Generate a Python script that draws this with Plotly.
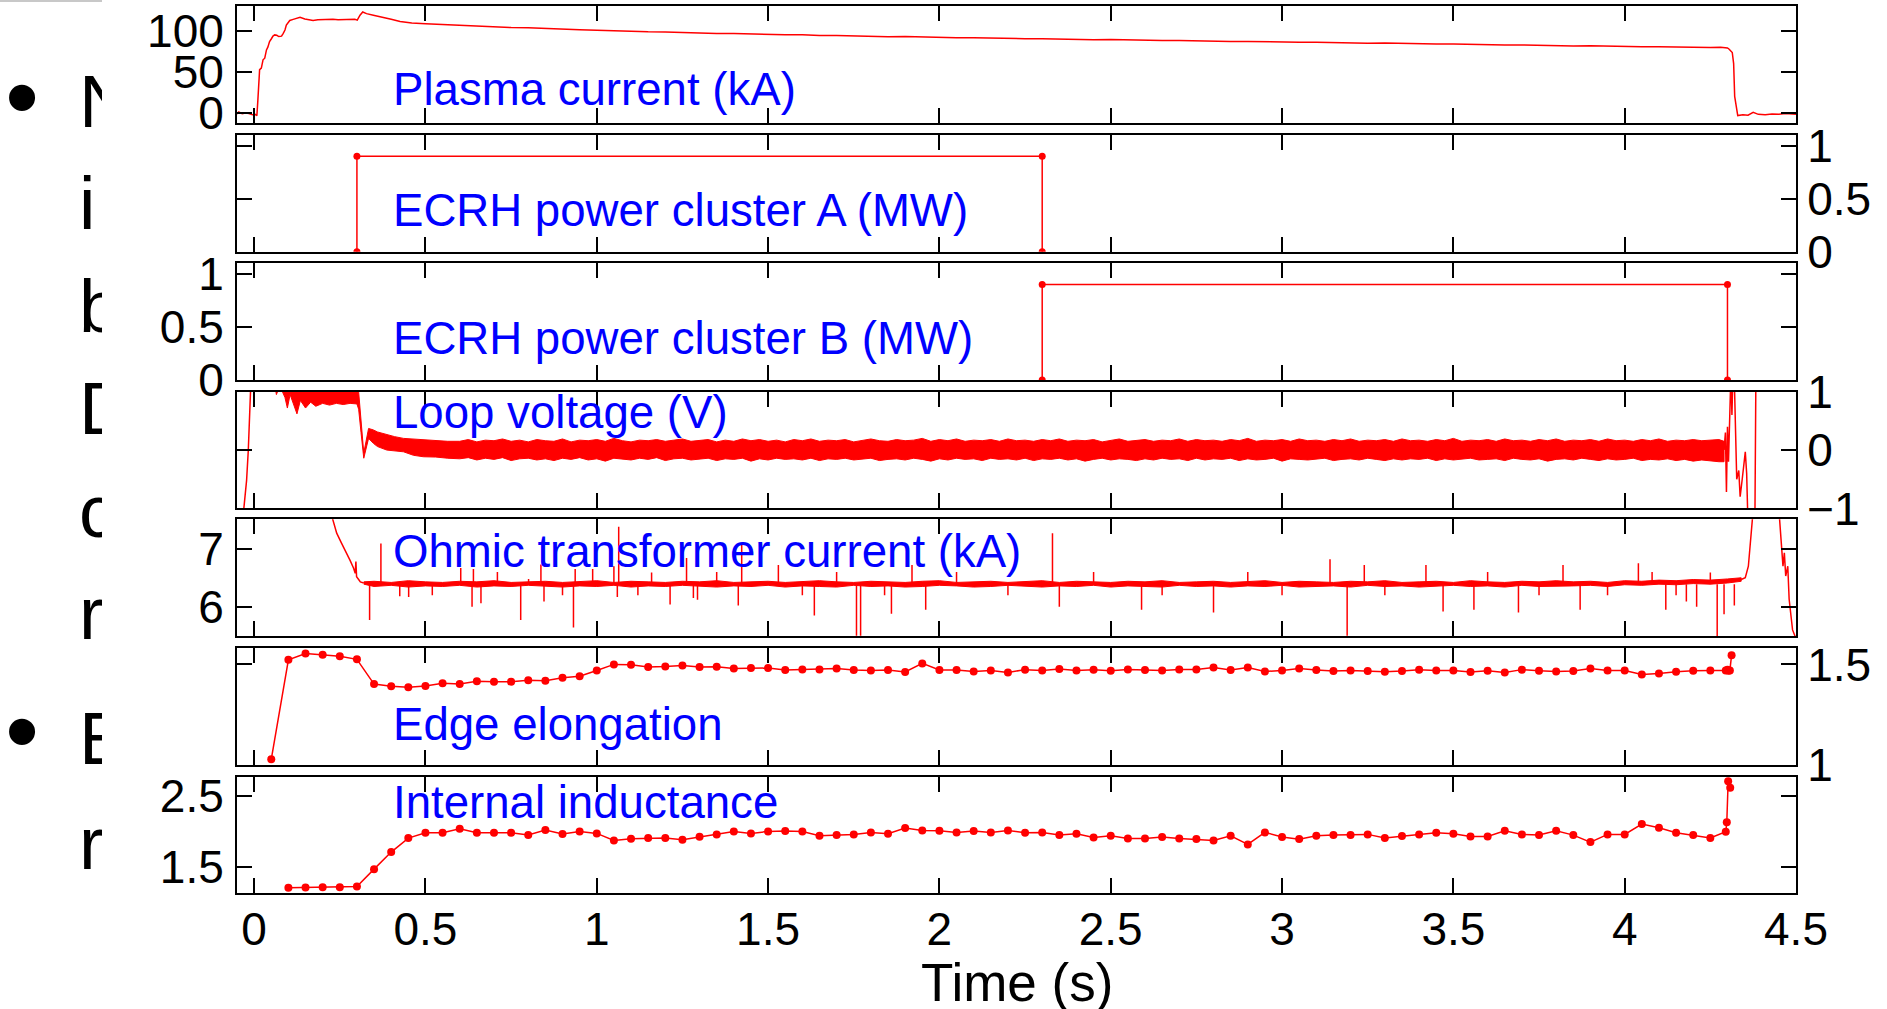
import plotly.graph_objects as go

W, H = 1887, 1009
RED = "#ff0000"
BLUE = "#0000ff"
FONT = "Liberation Sans"

# ---------------- data ----------------
# Plasma current (kA)
ip_t = [-0.05, -0.045, -0.035, -0.025, -0.015, -0.005, 0.003, 0.008, 0.011, 0.016, 0.021, 0.026,
        0.031, 0.036, 0.040, 0.045, 0.050, 0.055, 0.060, 0.066, 0.072, 0.080, 0.085, 0.090, 0.094,
        0.099, 0.104, 0.114, 0.124, 0.134, 0.148, 0.16, 0.172, 0.186, 0.201, 0.215, 0.23, 0.245,
        0.26, 0.275, 0.294, 0.301, 0.309, 0.317, 0.328, 0.348, 0.377, 0.40, 0.426, 0.46, 0.5,
        0.55, 0.6, 0.65, 0.7, 0.75, 0.8, 0.85, 0.9, 0.95, 1.0, 1.05, 1.1, 1.15, 1.2, 1.25, 1.3,
        1.35, 1.4, 1.45, 1.5, 1.55, 1.6, 1.65, 1.7, 1.75, 1.8, 1.85, 1.9, 1.95, 2.0, 2.05, 2.1,
        2.15, 2.2, 2.25, 2.3, 2.35, 2.4, 2.45, 2.5, 2.55, 2.6, 2.65, 2.7, 2.75, 2.8, 2.85, 2.9,
        2.95, 3.0, 3.05, 3.1, 3.15, 3.2, 3.25, 3.3, 3.35, 3.4, 3.45, 3.5, 3.55, 3.6, 3.65, 3.7,
        3.75, 3.8, 3.85, 3.9, 3.95, 4.0, 4.05, 4.1, 4.15, 4.2, 4.25, 4.28, 4.29, 4.30, 4.305,
        4.31, 4.314, 4.318, 4.321, 4.33, 4.345, 4.36, 4.375, 4.39, 4.41, 4.43, 4.45, 4.47, 4.5]
ip_ka = [-1.7, 1.0, -1.3, -0.5, -1.0, -2.5, -2.0, -3.7, 16.0, 52.5, 54.5, 64.6,
         66.6, 76.7, 80.0, 86.8, 90.0, 93.6, 95.0, 94.5, 93.0, 93.5, 97.0, 101.0, 107.0,
         110.0, 112.6, 114.0, 115.5, 116.5, 114.5, 113.5, 112.6, 113.5, 113.8, 114.2, 114.0, 113.6,
         114.0, 114.2, 114.0, 113.0, 119.0, 123.0, 121.0, 119.0, 116.5, 114.0, 111.3, 109.5, 108.5,
         107.5, 106.9, 105.8, 105.0, 104.0, 103.6, 102.5, 102.0, 101.2, 100.8, 100.0, 99.7, 98.8,
         98.6, 97.7, 97.6, 96.8, 96.7, 95.9, 95.8, 95.1, 95.2, 94.3, 94.4, 93.6, 93.7, 92.9,
         93.0, 92.3, 92.2, 91.5, 91.6, 90.9, 91.0, 90.4, 90.4, 89.8, 89.9, 89.2, 89.3, 88.7,
         88.8, 88.2, 88.2, 87.6, 87.7, 87.1, 87.1, 86.5, 86.6, 86.0, 86.1, 85.4, 85.5, 84.9,
         85.0, 84.3, 84.4, 83.8, 83.9, 83.2, 83.4, 82.7, 82.8, 82.2, 82.3, 81.6, 81.7, 81.1,
         81.1, 80.5, 80.6, 80.0, 80.1, 79.6, 79.8, 79.5, 79.0, 77.5, 75.5,
         73.5, 60.0, 20.0, -3.5, -2.5, -3.0, 0.5, -2.0, -2.5, -1.5, -2.0, -1.0, -2.0, -1.5]

# ECRH power, cluster A and B (MW)
ecrh_a_t = [0.3, 0.3, 2.3, 2.3]
ecrh_a_mw = [0.0, 0.9, 0.9, 0.0]
ecrh_b_t = [2.3, 2.3, 4.3, 4.3]
ecrh_b_mw = [0.0, 0.9, 0.9, 0.0]

# Loop voltage (V): breakdown, noise band (upper / lower envelope), termination
vloop_start_t = [-0.05, -0.035, -0.03, -0.022, -0.017, -0.012, -0.008, 0.0, 0.055]
vloop_start_v = [-1.5, -1.3, -1.0, -0.52, 0.0, 1.0, 1.4, 1.5, 1.3]
# early part of the band (breakdown phase and ECRH switch-on)
vloop_early_t = [0.055, 0.065, 0.075, 0.09, 0.097, 0.105, 0.115, 0.125, 0.135, 0.15, 0.165,
                 0.18, 0.2, 0.22, 0.24, 0.26, 0.28, 0.3, 0.305, 0.312, 0.32, 0.334, 0.348,
                 0.36, 0.387, 0.41, 0.436, 0.465, 0.494, 0.53, 0.565]
vloop_early_hi = [1.3, 1.3, 1.3, 1.3, 1.3, 1.3, 1.3, 1.3, 1.3, 1.3, 1.3,
                  1.3, 1.3, 1.3, 1.3, 1.3, 1.3, 1.3, 1.0, 0.5, -0.05, 0.37, 0.345,
                  0.31, 0.26, 0.23, 0.2, 0.19, 0.17, 0.16, 0.15]
vloop_early_lo = [1.3, 0.95, 1.1, 0.9, 0.72, 0.95, 0.8, 0.62, 0.85, 0.72, 0.82,
                  0.75, 0.8, 0.77, 0.8, 0.78, 0.8, 0.79, 0.7, 0.3, -0.14, 0.2, 0.115,
                  0.06, 0.0, -0.02, -0.03, -0.09, -0.115, -0.12, -0.14]
# flat-top band, sampled every 25 ms from 0.6 s
vloop_flat_t0, vloop_flat_dt = 0.6, 0.025
vloop_flat_hi = [0.15, 0.18, 0.14, 0.17, 0.16, 0.19, 0.15, 0.17, 0.14, 0.18,
                 0.16, 0.15, 0.19, 0.14, 0.17, 0.16, 0.18, 0.15, 0.20, 0.16,
                 0.14, 0.17, 0.16, 0.18, 0.15, 0.17, 0.19, 0.15, 0.16, 0.18,
                 0.14, 0.17, 0.15, 0.19, 0.16, 0.18, 0.15, 0.17, 0.14, 0.18,
                 0.16, 0.19, 0.15, 0.17, 0.16, 0.18, 0.14, 0.17, 0.19, 0.16,
                 0.15, 0.18, 0.16, 0.17, 0.20, 0.15, 0.18, 0.16, 0.19, 0.15,
                 0.17, 0.16, 0.18, 0.15, 0.19, 0.16, 0.17, 0.15, 0.18, 0.16,
                 0.19, 0.15, 0.17, 0.16, 0.18, 0.14, 0.17, 0.19, 0.15, 0.16,
                 0.18, 0.15, 0.17, 0.16, 0.19, 0.15, 0.18, 0.16, 0.17, 0.15,
                 0.18, 0.16, 0.20, 0.15, 0.17, 0.16, 0.18, 0.15, 0.19, 0.16,
                 0.17, 0.15, 0.18, 0.16, 0.19, 0.15, 0.17, 0.16, 0.18, 0.15,
                 0.19, 0.16, 0.17, 0.15, 0.18, 0.16, 0.20, 0.15, 0.17, 0.16,
                 0.18, 0.15, 0.19, 0.16, 0.17, 0.15, 0.18, 0.16, 0.19, 0.15,
                 0.17, 0.16, 0.18, 0.15, 0.19, 0.16, 0.17, 0.15, 0.18, 0.16,
                 0.19, 0.15, 0.17, 0.16, 0.18, 0.16, 0.17, 0.18]
vloop_flat_lo = [-0.15, -0.13, -0.17, -0.14, -0.16, -0.13, -0.18, -0.15, -0.14, -0.17,
                 -0.15, -0.18, -0.14, -0.16, -0.13, -0.17, -0.15, -0.19, -0.14, -0.16,
                 -0.17, -0.14, -0.16, -0.13, -0.18, -0.15, -0.14, -0.17, -0.16, -0.14,
                 -0.18, -0.15, -0.16, -0.14, -0.19, -0.15, -0.17, -0.14, -0.16, -0.15,
                 -0.17, -0.14, -0.18, -0.15, -0.16, -0.14, -0.17, -0.15, -0.14, -0.18,
                 -0.16, -0.15, -0.17, -0.14, -0.16, -0.19, -0.15, -0.17, -0.14, -0.16,
                 -0.15, -0.18, -0.14, -0.16, -0.15, -0.17, -0.14, -0.18, -0.15, -0.16,
                 -0.14, -0.17, -0.15, -0.19, -0.16, -0.14, -0.17, -0.15, -0.16, -0.18,
                 -0.15, -0.17, -0.14, -0.16, -0.15, -0.18, -0.14, -0.17, -0.15, -0.16,
                 -0.14, -0.18, -0.15, -0.17, -0.16, -0.14, -0.19, -0.15, -0.16, -0.17,
                 -0.15, -0.14, -0.18, -0.16, -0.15, -0.17, -0.14, -0.16, -0.18, -0.15,
                 -0.17, -0.15, -0.16, -0.14, -0.18, -0.15, -0.17, -0.16, -0.14, -0.17,
                 -0.16, -0.15, -0.18, -0.14, -0.16, -0.17, -0.15, -0.19, -0.16, -0.15,
                 -0.17, -0.14, -0.16, -0.18, -0.15, -0.17, -0.16, -0.14, -0.18, -0.16,
                 -0.17, -0.15, -0.18, -0.16, -0.19, -0.17, -0.18, -0.20]
vloop_late_t = [4.29]
vloop_late_hi = [0.15]
vloop_late_lo = [-0.2]
vloop_end_t = [4.29, 4.294, 4.297, 4.300, 4.303, 4.307, 4.31, 4.313, 4.316, 4.32, 4.323, 4.327,
               4.333, 4.337, 4.343, 4.347, 4.352, 4.356, 4.36, 4.38, 4.383, 4.5]
vloop_end_v = [0.0, 0.3, -0.72, 0.4, -0.2, 0.6, 1.3, 0.6, 1.3, 1.2, 0.3, -0.5,
               -0.35, -0.8, -0.5, -0.29, -0.03, -0.4, -1.3, -1.3, 1.3, 1.3]

# Ohmic transformer current (kA): ramp-down, flat-top band, spikes, termination
ioh_ramp_t = [0.225, 0.241, 0.255, 0.27, 0.28, 0.29, 0.295, 0.297, 0.299, 0.305, 0.31, 0.32]
ioh_ramp_ka = [7.6, 7.27, 7.1, 6.93, 6.8, 6.67, 6.58, 6.78, 6.52, 6.47, 6.43, 6.41]
# flat-top band, sampled every 50 ms from 0.35 s
ioh_flat_t0, ioh_flat_dt = 0.35, 0.05
ioh_band_hi = [6.44, 6.42, 6.45, 6.43, 6.42, 6.44, 6.43, 6.45, 6.42, 6.43,
               6.44, 6.42, 6.43, 6.45, 6.42, 6.44, 6.43, 6.42, 6.44, 6.43,
               6.45, 6.42, 6.43, 6.44, 6.42, 6.43, 6.45, 6.43, 6.42, 6.44,
               6.43, 6.42, 6.44, 6.45, 6.42, 6.43, 6.44, 6.42, 6.43, 6.45,
               6.42, 6.44, 6.43, 6.42, 6.44, 6.43, 6.45, 6.42, 6.43, 6.44,
               6.42, 6.43, 6.45, 6.42, 6.44, 6.43, 6.42, 6.44, 6.43, 6.45,
               6.42, 6.43, 6.44, 6.42, 6.45, 6.43, 6.42, 6.44, 6.43, 6.45,
               6.43, 6.44, 6.42, 6.45, 6.44, 6.46, 6.45, 6.47, 6.46, 6.48]
ioh_band_lo = [6.35, 6.37, 6.34, 6.36, 6.35, 6.37, 6.34, 6.36, 6.35, 6.37,
               6.36, 6.34, 6.36, 6.35, 6.37, 6.34, 6.36, 6.35, 6.37, 6.35,
               6.34, 6.36, 6.35, 6.37, 6.34, 6.36, 6.35, 6.34, 6.37, 6.35,
               6.36, 6.34, 6.35, 6.37, 6.36, 6.34, 6.35, 6.37, 6.35, 6.34,
               6.36, 6.35, 6.37, 6.34, 6.36, 6.35, 6.34, 6.37, 6.35, 6.36,
               6.34, 6.36, 6.35, 6.37, 6.34, 6.35, 6.36, 6.34, 6.37, 6.35,
               6.36, 6.34, 6.35, 6.37, 6.35, 6.36, 6.34, 6.37, 6.35, 6.36,
               6.36, 6.37, 6.35, 6.38, 6.37, 6.39, 6.38, 6.40, 6.39, 6.41]
ioh_spike_t = [0.337, 0.370, 0.425, 0.451, 0.52, 0.603, 0.636, 0.640, 0.662, 0.71, 0.778, 0.801,
               0.837, 0.846, 0.9, 0.932, 0.937, 0.988, 1.050, 1.060, 1.064, 1.12, 1.160, 1.214,
               1.262, 1.282, 1.294, 1.35, 1.413, 1.423, 1.53, 1.6, 1.635, 1.7, 1.758, 1.77, 1.84,
               1.86, 1.92, 1.96, 2.05, 2.2, 2.33, 2.35, 2.45, 2.59, 2.65, 2.80, 2.9, 3.0, 3.14,
               3.19, 3.24, 3.3, 3.42, 3.47, 3.56, 3.6, 3.69, 3.75, 3.82, 3.87, 3.95, 4.04, 4.08,
               4.12, 4.15, 4.18, 4.21, 4.25, 4.27, 4.29, 4.32]
ioh_spike_ka = [5.77, 7.09, 6.18, 6.17, 6.2, 6.67, 6.0, 6.65, 6.06, 6.6, 5.77, 6.48,
                6.73, 6.09, 6.2, 5.64, 6.65, 6.65, 6.70, 6.17, 7.38, 6.2, 6.59, 6.04,
                6.84, 6.15, 6.12, 6.6, 6.02, 7.11, 6.72, 6.2, 5.85, 6.6, 5.5, 5.5, 6.2,
                5.88, 6.72, 5.95, 6.6, 6.2, 7.27, 6.0, 6.6, 5.95, 6.2, 5.9, 6.6, 6.2, 6.82,
                5.5, 6.72, 6.2, 6.72, 5.92, 5.95, 6.6, 5.9, 6.2, 6.72, 5.95, 6.2, 6.75, 6.6,
                5.95, 6.2, 6.09, 6.0, 6.59, 5.45, 5.87, 6.02]
ioh_end_t = [4.34, 4.352, 4.361, 4.369, 4.374, 4.451, 4.457, 4.462, 4.466, 4.47, 4.476, 4.48,
             4.486, 4.49, 4.5]
ioh_end_ka = [6.47, 6.5, 6.7, 7.15, 7.6, 7.6, 7.04, 6.7, 6.93, 6.53, 6.7, 6.13,
              5.81, 5.6, 5.45]

# Edge elongation
kappa_t = [0.05, 0.10, 0.15, 0.20, 0.25, 0.30, 0.35, 0.40, 0.45, 0.50, 0.55, 0.60, 0.65, 0.70,
           0.75, 0.80, 0.85, 0.90, 0.95, 1.00, 1.05, 1.10, 1.15, 1.20, 1.25, 1.30, 1.35, 1.40,
           1.45, 1.50, 1.55, 1.60, 1.65, 1.70, 1.75, 1.80, 1.85, 1.90, 1.95, 2.00, 2.05, 2.10,
           2.15, 2.20, 2.25, 2.30, 2.35, 2.40, 2.45, 2.50, 2.55, 2.60, 2.65, 2.70, 2.75, 2.80,
           2.85, 2.90, 2.95, 3.00, 3.05, 3.10, 3.15, 3.20, 3.25, 3.30, 3.35, 3.40, 3.45, 3.50,
           3.55, 3.60, 3.65, 3.70, 3.75, 3.80, 3.85, 3.90, 3.95, 4.00, 4.05, 4.10, 4.15, 4.20,
           4.25, 4.295, 4.300, 4.303, 4.307, 4.312]
kappa = [1.028, 1.523, 1.554, 1.548, 1.540, 1.525, 1.402, 1.391, 1.386, 1.393, 1.406, 1.402,
         1.416, 1.414, 1.414, 1.421, 1.419, 1.434, 1.441, 1.470, 1.500, 1.498, 1.487, 1.490,
         1.495, 1.487, 1.488, 1.479, 1.482, 1.482, 1.472, 1.475, 1.475, 1.479, 1.472, 1.470,
         1.472, 1.462, 1.505, 1.472, 1.472, 1.465, 1.470, 1.460, 1.474, 1.470, 1.477, 1.470,
         1.474, 1.469, 1.475, 1.472, 1.470, 1.475, 1.475, 1.484, 1.472, 1.484, 1.465, 1.470,
         1.479, 1.472, 1.467, 1.470, 1.467, 1.464, 1.467, 1.474, 1.470, 1.470, 1.462, 1.469,
         1.460, 1.474, 1.469, 1.465, 1.467, 1.479, 1.470, 1.470, 1.450, 1.455, 1.464, 1.469,
         1.470, 1.470, 1.474, 1.468, 1.470, 1.546]

# Internal inductance
li_t = [0.10, 0.15, 0.20, 0.25, 0.30, 0.35, 0.40, 0.45, 0.50, 0.55, 0.60, 0.65, 0.70, 0.75,
        0.80, 0.85, 0.90, 0.95, 1.00, 1.05, 1.10, 1.15, 1.20, 1.25, 1.30, 1.35, 1.40, 1.45,
        1.50, 1.55, 1.60, 1.65, 1.70, 1.75, 1.80, 1.85, 1.90, 1.95, 2.00, 2.05, 2.10, 2.15,
        2.20, 2.25, 2.30, 2.35, 2.40, 2.45, 2.50, 2.55, 2.60, 2.65, 2.70, 2.75, 2.80, 2.85,
        2.90, 2.95, 3.00, 3.05, 3.10, 3.15, 3.20, 3.25, 3.30, 3.35, 3.40, 3.45, 3.50, 3.55,
        3.60, 3.65, 3.70, 3.75, 3.80, 3.85, 3.90, 3.95, 4.00, 4.05, 4.10, 4.15, 4.20, 4.25,
        4.295, 4.298, 4.302, 4.308]
li = [1.203, 1.208, 1.212, 1.212, 1.222, 1.467, 1.708, 1.906, 1.981, 1.981, 2.038, 1.981,
      1.981, 1.981, 1.948, 2.019, 1.962, 2.000, 1.972, 1.873, 1.896, 1.906, 1.906, 1.882,
      1.924, 1.958, 2.000, 1.972, 2.000, 2.005, 2.000, 1.939, 1.948, 1.958, 1.986, 1.967,
      2.047, 2.014, 2.010, 1.986, 2.005, 1.986, 2.014, 1.981, 1.986, 1.948, 1.967, 1.915,
      1.939, 1.901, 1.901, 1.920, 1.901, 1.891, 1.873, 1.939, 1.816, 1.986, 1.920, 1.891,
      1.939, 1.948, 1.948, 1.958, 1.906, 1.936, 1.958, 1.981, 1.967, 1.929, 1.929, 2.010,
      1.958, 1.948, 2.010, 1.948, 1.849, 1.958, 1.958, 2.104, 2.052, 1.981, 1.948, 1.906,
      1.995, 2.128, 2.708, 2.617]

labels = ["Plasma current (kA)", "ECRH power cluster A (MW)", "ECRH power cluster B (MW)",
          "Loop voltage (V)", "Ohmic transformer current (kA)", "Edge elongation",
          "Internal inductance"]
label_pos = [0.285, 0.352, 0.354, 0.82, 0.72, 0.348, 0.777]

y_ranges = [[-12.2, 130.3], [0, 1.1], [0, 1.1], [-1, 1], [5.495, 7.51], [1.0, 1.58], [1.124, 2.773]]
y_ticks = [[0, 50, 100], [0, 0.5, 1], [0, 0.5, 1], [-1, 0, 1], [6, 7], [1, 1.5], [1.5, 2.5]]
y_sides = ["left", "right", "left", "right", "left", "right", "left"]
x_ticks = [0, 0.5, 1, 1.5, 2, 2.5, 3, 3.5, 4, 4.5]
x_ticktext = ["0", "0.5", "1", "1.5", "2", "2.5", "3", "3.5", "4", "4.5"]
x_range = [-0.05, 4.5]

# slide text partly hidden behind the figure
slide_letters = ["N", "i", "b", "D", "c", "r", "E", "r"]
slide_baseline_px = [128, 230, 333, 435, 538, 640, 765, 870]
slide_bullet_px = [106, 740]

# ---------------- layout geometry (pixels) ----------------
PLOT_L, PLOT_R = 237, 1796
PANEL_TOP = [6, 135, 263.3, 391.7, 519.3, 648.3, 776.7]
PANEL_H = 116.7


def ydom(i):
    top = PANEL_TOP[i]
    return [1 - (top + PANEL_H) / H, 1 - top / H]


xdom = [PLOT_L / W, PLOT_R / W]

fig = go.Figure()
line = dict(color=RED, width=1.5)


def ax(i):
    s = "" if i == 0 else str(i + 1)
    return "x" + s, "y" + s


def add_line(i, t, v, markers=False):
    xa, ya = ax(i)
    fig.add_trace(go.Scatter(x=t, y=v, mode="lines+markers" if markers else "lines",
                             line=line, marker=dict(color=RED, size=markers or 1),
                             xaxis=xa, yaxis=ya, hoverinfo="skip", showlegend=False))


def add_band(i, t, hi, lo):
    xa, ya = ax(i)
    fig.add_trace(go.Scatter(x=list(t) + list(t)[::-1], y=list(hi) + list(lo)[::-1],
                             mode="lines", fill="toself", fillcolor=RED,
                             line=dict(color=RED, width=1), xaxis=xa, yaxis=ya,
                             hoverinfo="skip", showlegend=False))


# panel 1: plasma current
add_line(0, ip_t, ip_ka)
# panels 2, 3: ECRH
add_line(1, ecrh_a_t, ecrh_a_mw, markers=7)
add_line(2, ecrh_b_t, ecrh_b_mw, markers=7)
# panel 4: loop voltage
add_line(3, vloop_start_t, vloop_start_v)
vl_flat_t = [round(vloop_flat_t0 + k * vloop_flat_dt, 3) for k in range(len(vloop_flat_hi))]
add_band(3, vloop_early_t + vl_flat_t + vloop_late_t,
         vloop_early_hi + vloop_flat_hi + vloop_late_hi,
         vloop_early_lo + vloop_flat_lo + vloop_late_lo)
add_line(3, vloop_end_t, vloop_end_v)
# panel 5: ohmic transformer current
add_line(4, ioh_ramp_t, ioh_ramp_ka)
ioh_t = [round(ioh_flat_t0 + k * ioh_flat_dt, 3) for k in range(len(ioh_band_hi))]
add_band(4, [0.32] + ioh_t + [4.34], [6.43] + ioh_band_hi + [6.5], [6.39] + ioh_band_lo + [6.44])
spx, spy = [], []
for t, v in zip(ioh_spike_t, ioh_spike_ka):
    spx += [t, t, None]
    spy += [6.39, v, None]
add_line(4, spx, spy)
add_line(4, ioh_end_t, ioh_end_ka)
# panels 6, 7: equilibrium reconstruction
add_line(5, kappa_t, kappa, markers=8)
add_line(6, li_t, li, markers=8)

axis_common = dict(ticks="inside", ticklen=15, tickwidth=1.5, tickcolor="black",
                   showline=True, linecolor="black", linewidth=2, mirror="ticks",
                   showgrid=False, zeroline=False, automargin=False,
                   tickfont=dict(family=FONT, size=46, color="black"))

layout = {}
for i in range(7):
    s = "" if i == 0 else str(i + 1)
    xa = dict(axis_common, domain=xdom, range=x_range, tickvals=x_ticks,
              anchor="y" + s, showticklabels=(i == 6))
    if i == 6:
        xa["ticktext"] = x_ticktext
        xa["ticklabelstandoff"] = -6
    ya = dict(axis_common, domain=ydom(i), range=y_ranges[i], tickvals=y_ticks[i],
              side=y_sides[i], anchor="x" + s,
              ticklabelstandoff=2 if y_sides[i] == "left" else 0)
    layout["xaxis" + s] = xa
    layout["yaxis" + s] = ya

# strip on the far left for the slide text (clipped at its right edge)
layout["xaxis8"] = dict(domain=[0, 102 / W], range=[0, 102], visible=False, fixedrange=True)
layout["yaxis8"] = dict(domain=[0, 1], range=[H, 0], visible=False, fixedrange=True,
                        anchor="x8")
fig.add_trace(go.Scatter(x=[79] * len(slide_letters), y=[b - 20 for b in slide_baseline_px],
                         text=slide_letters, mode="text", textposition="middle right",
                         textfont=dict(family=FONT, size=74, color="black"),
                         cliponaxis=True, xaxis="x8", yaxis="y8",
                         hoverinfo="skip", showlegend=False))
fig.add_trace(go.Scatter(x=[22] * len(slide_bullet_px), y=slide_bullet_px,
                         text=["\u2022"] * len(slide_bullet_px), mode="text",
                         textposition="middle center",
                         textfont=dict(family=FONT, size=96, color="black"),
                         cliponaxis=True, xaxis="x8", yaxis="y8",
                         hoverinfo="skip", showlegend=False))

annotations = []
for i, (txt, yp) in enumerate(zip(labels, label_pos)):
    s = "" if i == 0 else str(i + 1)
    annotations.append(dict(text=txt, x=0.4, xref="x" + s, y=yp, yref="y" + s + " domain",
                            xanchor="left", yanchor="middle", showarrow=False,
                            font=dict(family=FONT, size=45.6, color=BLUE)))
annotations.append(dict(text="Time (s)", x=(PLOT_L + PLOT_R) / 2 / W, xref="paper",
                        y=1 - 982 / H, yref="paper", xanchor="center", yanchor="middle",
                        showarrow=False, font=dict(family=FONT, size=53, color="black")))

fig.update_layout(
    width=W, height=H,
    margin=dict(l=0, r=0, t=0, b=0, autoexpand=False),
    paper_bgcolor="white", plot_bgcolor="rgba(0,0,0,0)",
    font=dict(family=FONT, color="black"),
    annotations=annotations,
    shapes=[dict(type="rect", xref="paper", yref="paper", x0=0, x1=102 / W,
                 y0=1 - 2 / H, y1=1, fillcolor="#c8c8c8", line=dict(width=0))],
    **layout,
)

fig.write_html("out.html")
